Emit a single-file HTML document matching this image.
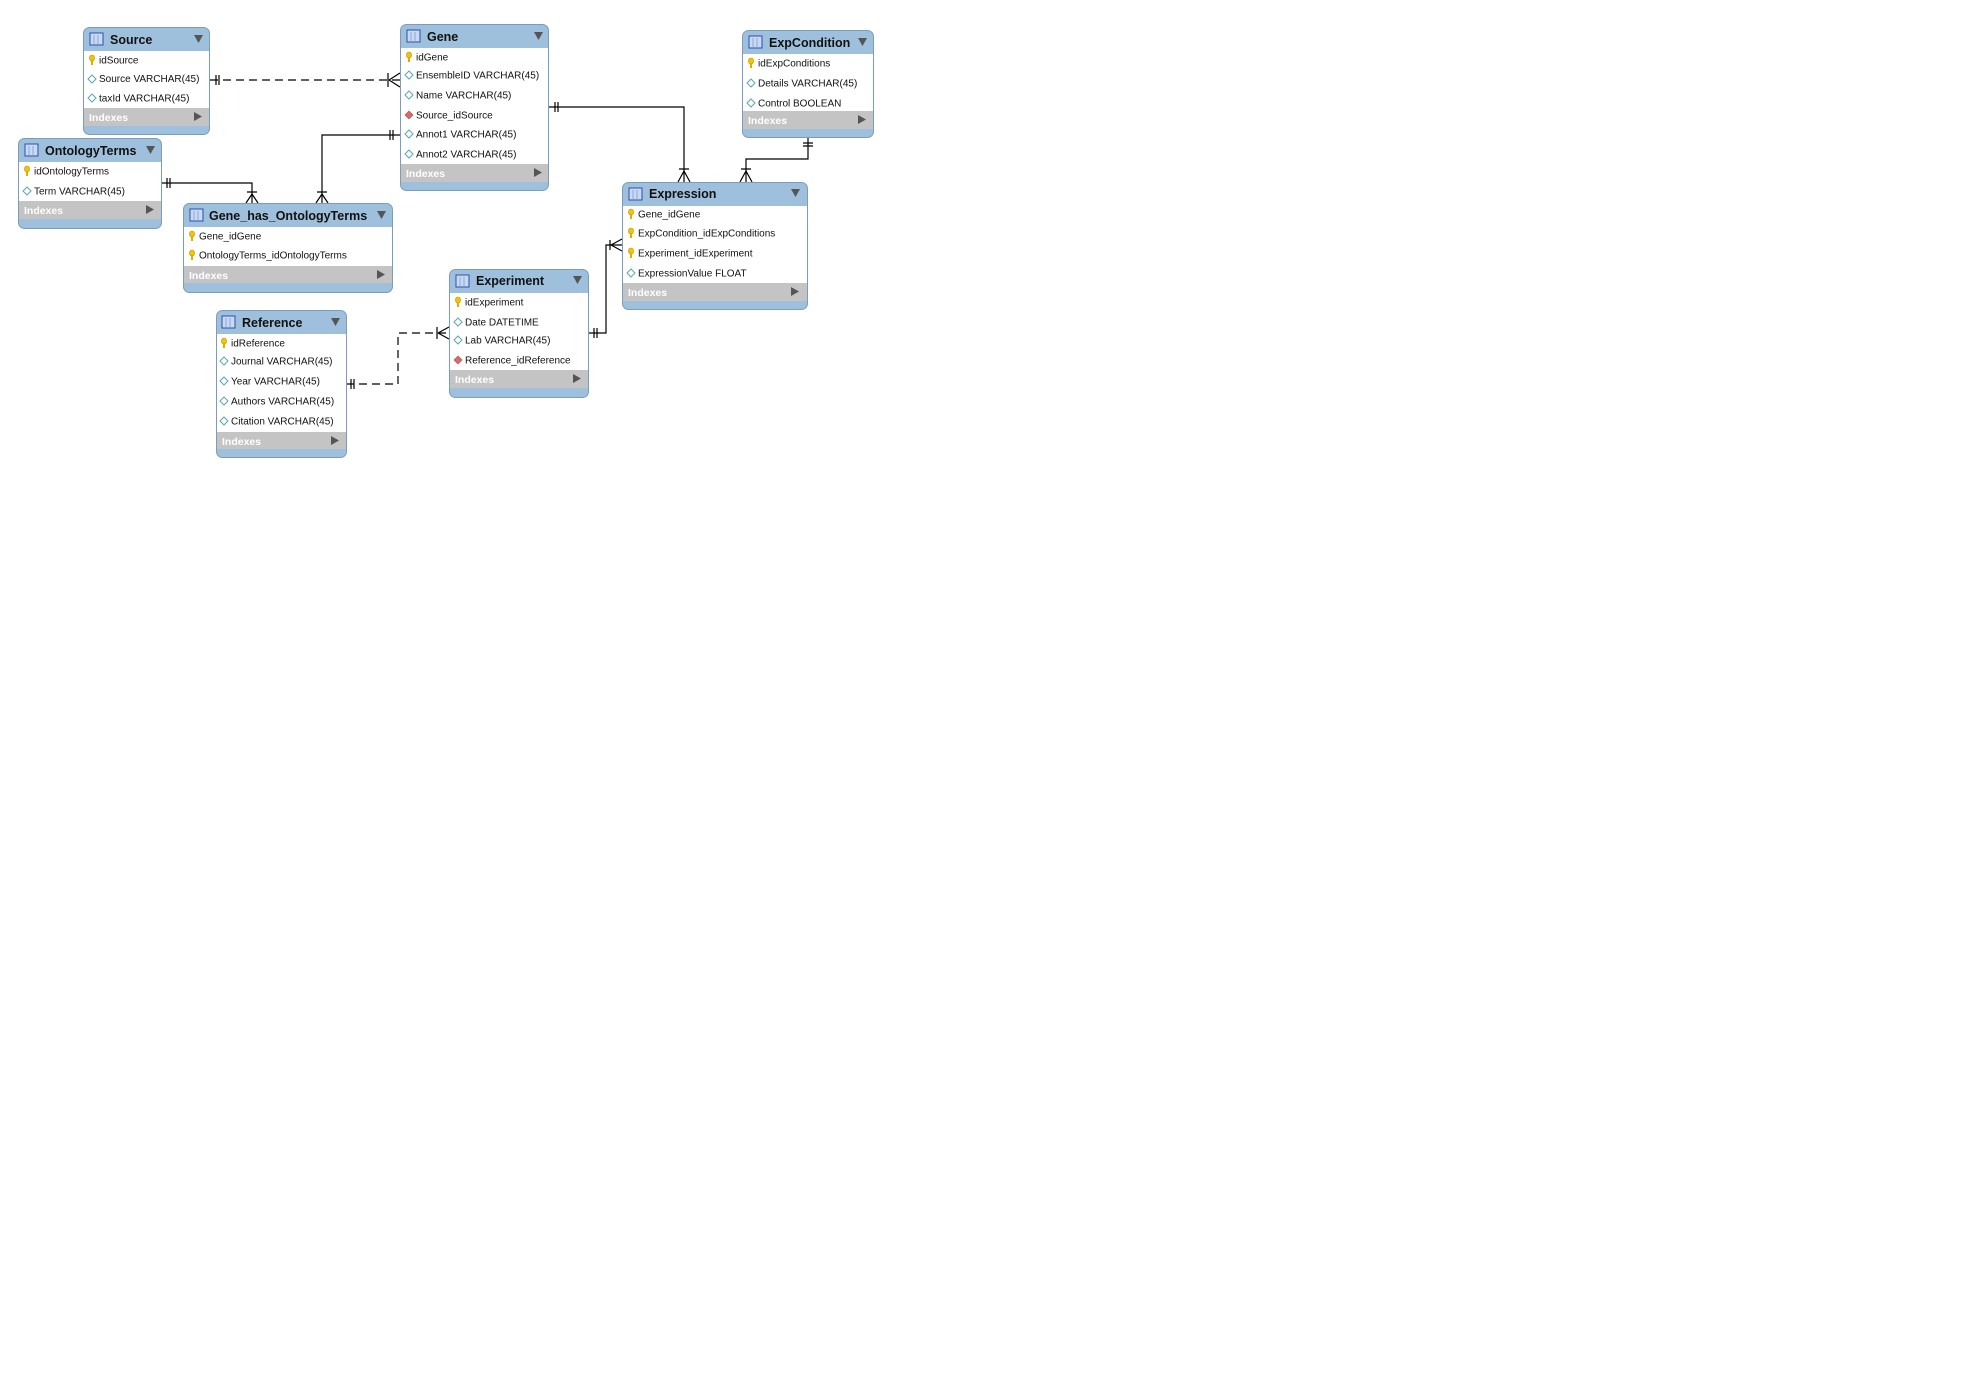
<!DOCTYPE html>
<html><head><meta charset="utf-8"><style>
html,body{margin:0;padding:0;background:#fff;}
svg{display:block;}
text{font-family:"Liberation Sans","DejaVu Sans",sans-serif;}
.h{font-size:12.5px;font-weight:bold;fill:#111;}
.r{font-size:10px;fill:#111;}
.ix{font-size:10.5px;font-weight:bold;fill:#fff;}
.box{fill:#9fc0dc;stroke:#7c9cbc;stroke-width:1;}
.ln{fill:none;stroke:#000;stroke-width:1.2;}
.ds{stroke-dasharray:8,5;}
</style></head><body>
<svg width="1972" height="1380" viewBox="0 0 1972 1380" xmlns="http://www.w3.org/2000/svg">
<defs>
<g id="ti"><rect x="0" y="0" width="13" height="12" fill="#c9d9f2" stroke="#2a4fb0" stroke-width="1"/><line x1="4" y1="2" x2="4" y2="11" stroke="#8aa6dc"/><line x1="8" y1="2" x2="8" y2="11" stroke="#8aa6dc"/></g>
<g id="key"><ellipse cx="0" cy="-2" rx="2.6" ry="3" fill="#f4c400" stroke="#c89400" stroke-width="0.6"/><rect x="-1" y="0" width="2" height="5" fill="#e0b000"/></g>
<g id="dia"><path d="M0,-4 L4,0 L0,4 L-4,0Z" fill="none" stroke="#5aa5b5" stroke-width="1"/></g>
<g id="fk"><path d="M0,-4 L4,0 L0,4 L-4,0Z" fill="#d96a6a" stroke="#b04848" stroke-width="0.6"/></g>
<g id="tri"><path d="M0,0 L9,0 L4.5,8Z" fill="#555"/></g>
<g id="arr"><path d="M0,0 L8,4.5 L0,9Z" fill="#555"/></g>
</defs>

<path class="ln ds" d="M210,80 L400,80"/>
<path class="ln" d="M216,75 V85 M219,75 V85 M388,73 V87 M389,80 L400,73 M389,80 L400,87"/>
<path class="ln" d="M400,135 H322 V203"/>
<path class="ln" d="M390,130 V140 M393,130 V140 M317,192 H327 M322,194 L316,203 M322,194 L328,203"/>
<path class="ln" d="M161,183 H252 V203"/>
<path class="ln" d="M167,178 V188 M170,178 V188 M247,192 H257 M252,194 L246,203 M252,194 L258,203"/>
<path class="ln" d="M549,107 H684 V182"/>
<path class="ln" d="M555,102 V112 M558,102 V112 M679,169 H689 M684,171 L678,182 M684,171 L690,182"/>
<path class="ln" d="M808,137 V159 H746 V182"/>
<path class="ln" d="M803,143 H813 M803,146 H813 M741,169 H751 M746,171 L740,182 M746,171 L752,182"/>
<path class="ln" d="M588,333 H606 V245 H622"/>
<path class="ln" d="M594,328 V338 M597,328 V338 M610,240 V250 M611,245 L622,239 M611,245 L622,251"/>
<path class="ln ds" d="M346,384 H398 V333 H449"/>
<path class="ln" d="M351,379 V389 M354,379 V389 M437,327 V339 M438,333 L449,327 M438,333 L449,339"/>

<g>
<rect class="box" x="83.5" y="27.5" width="126" height="107" rx="6"/>
<rect x="84" y="51" width="125" height="57" fill="#fff"/>
<rect x="84" y="108" width="125" height="18" fill="#c4c4c4"/>
<use href="#ti" x="90" y="33"/>
<text class="h" x="110" y="44">Source</text>
<use href="#tri" x="194" y="35"/>
<use href="#key" x="92" y="60"/><text class="r" x="99" y="63.5">idSource</text>
<use href="#dia" x="92" y="79"/><text class="r" x="99" y="82">Source VARCHAR(45)</text>
<use href="#dia" x="92" y="98"/><text class="r" x="99" y="101.5">taxId VARCHAR(45)</text>
<text class="ix" x="89" y="121">Indexes</text><use href="#arr" x="194" y="112"/>
</g>

<g>
<rect class="box" x="400.5" y="24.5" width="148" height="166" rx="6"/>
<rect x="401" y="48" width="147" height="116" fill="#fff"/>
<rect x="401" y="164" width="147" height="18" fill="#c4c4c4"/>
<use href="#ti" x="407" y="30"/>
<text class="h" x="427" y="41">Gene</text>
<use href="#tri" x="534" y="32"/>
<use href="#key" x="409" y="57"/><text class="r" x="416" y="60.5">idGene</text>
<use href="#dia" x="409" y="75"/><text class="r" x="416" y="78.5">EnsembleID VARCHAR(45)</text>
<use href="#dia" x="409" y="95"/><text class="r" x="416" y="98.5">Name VARCHAR(45)</text>
<use href="#fk" x="409" y="115"/><text class="r" x="416" y="118.5">Source_idSource</text>
<use href="#dia" x="409" y="134"/><text class="r" x="416" y="137.5">Annot1 VARCHAR(45)</text>
<use href="#dia" x="409" y="154"/><text class="r" x="416" y="157.5">Annot2 VARCHAR(45)</text>
<text class="ix" x="406" y="177">Indexes</text><use href="#arr" x="534" y="168"/>
</g>

<g>
<rect class="box" x="18.5" y="138.5" width="143" height="90" rx="6"/>
<rect x="19" y="162" width="142" height="39" fill="#fff"/>
<rect x="19" y="201" width="142" height="18" fill="#c4c4c4"/>
<use href="#ti" x="25" y="144"/>
<text class="h" x="45" y="155">OntologyTerms</text>
<use href="#tri" x="146" y="146"/>
<use href="#key" x="27" y="171"/><text class="r" x="34" y="174.5">idOntologyTerms</text>
<use href="#dia" x="27" y="191"/><text class="r" x="34" y="194.5">Term VARCHAR(45)</text>
<text class="ix" x="24" y="214">Indexes</text><use href="#arr" x="146" y="205"/>
</g>

<g>
<rect class="box" x="183.5" y="203.5" width="209" height="89" rx="6"/>
<rect x="184" y="227" width="208" height="39" fill="#fff"/>
<rect x="184" y="266" width="208" height="17" fill="#c4c4c4"/>
<use href="#ti" x="190" y="209"/>
<text class="h" x="209" y="220">Gene_has_OntologyTerms</text>
<use href="#tri" x="377" y="211"/>
<use href="#key" x="192" y="236"/><text class="r" x="199" y="239.5">Gene_idGene</text>
<use href="#key" x="192" y="255"/><text class="r" x="199" y="258.5">OntologyTerms_idOntologyTerms</text>
<text class="ix" x="189" y="279">Indexes</text><use href="#arr" x="377" y="270"/>
</g>

<g>
<rect class="box" x="742.5" y="30.5" width="131" height="107" rx="6"/>
<rect x="743" y="54" width="130" height="57" fill="#fff"/>
<rect x="743" y="111" width="130" height="18" fill="#c4c4c4"/>
<use href="#ti" x="749" y="36"/>
<text class="h" x="769" y="47">ExpCondition</text>
<use href="#tri" x="858" y="38"/>
<use href="#key" x="751" y="63"/><text class="r" x="758" y="66.5">idExpConditions</text>
<use href="#dia" x="751" y="83"/><text class="r" x="758" y="86.5">Details VARCHAR(45)</text>
<use href="#dia" x="751" y="103"/><text class="r" x="758" y="106.5">Control BOOLEAN</text>
<text class="ix" x="748" y="124">Indexes</text><use href="#arr" x="858" y="115"/>
</g>

<g>
<rect class="box" x="622.5" y="182.5" width="185" height="127" rx="6"/>
<rect x="623" y="206" width="184" height="77" fill="#fff"/>
<rect x="623" y="283" width="184" height="18" fill="#c4c4c4"/>
<use href="#ti" x="629" y="188"/>
<text class="h" x="649" y="198">Expression</text>
<use href="#tri" x="791" y="189"/>
<use href="#key" x="631" y="214"/><text class="r" x="638" y="217.5">Gene_idGene</text>
<use href="#key" x="631" y="233"/><text class="r" x="638" y="236.5">ExpCondition_idExpConditions</text>
<use href="#key" x="631" y="253"/><text class="r" x="638" y="256.5">Experiment_idExperiment</text>
<use href="#dia" x="631" y="273"/><text class="r" x="638" y="276.5">ExpressionValue FLOAT</text>
<text class="ix" x="628" y="296">Indexes</text><use href="#arr" x="791" y="287"/>
</g>

<g>
<rect class="box" x="449.5" y="269.5" width="139" height="128" rx="6"/>
<rect x="450" y="293" width="138" height="77" fill="#fff"/>
<rect x="450" y="370" width="138" height="18" fill="#c4c4c4"/>
<use href="#ti" x="456" y="275"/>
<text class="h" x="476" y="285">Experiment</text>
<use href="#tri" x="573" y="276"/>
<use href="#key" x="458" y="302"/><text class="r" x="465" y="305.5">idExperiment</text>
<use href="#dia" x="458" y="322"/><text class="r" x="465" y="325.5">Date DATETIME</text>
<use href="#dia" x="458" y="340"/><text class="r" x="465" y="343.5">Lab VARCHAR(45)</text>
<use href="#fk" x="458" y="360"/><text class="r" x="465" y="363.5">Reference_idReference</text>
<text class="ix" x="455" y="383">Indexes</text><use href="#arr" x="573" y="374"/>
</g>

<g>
<rect class="box" x="216.5" y="310.5" width="130" height="147" rx="6"/>
<rect x="217" y="334" width="129" height="98" fill="#fff"/>
<rect x="217" y="432" width="129" height="17" fill="#c4c4c4"/>
<use href="#ti" x="222" y="316"/>
<text class="h" x="242" y="327">Reference</text>
<use href="#tri" x="331" y="318"/>
<use href="#key" x="224" y="343"/><text class="r" x="231" y="346.5">idReference</text>
<use href="#dia" x="224" y="361"/><text class="r" x="231" y="364.5">Journal VARCHAR(45)</text>
<use href="#dia" x="224" y="381"/><text class="r" x="231" y="384.5">Year VARCHAR(45)</text>
<use href="#dia" x="224" y="401"/><text class="r" x="231" y="404.5">Authors VARCHAR(45)</text>
<use href="#dia" x="224" y="421"/><text class="r" x="231" y="424.5">Citation VARCHAR(45)</text>
<text class="ix" x="222" y="445">Indexes</text><use href="#arr" x="331" y="436"/>
</g>
</svg>
</body></html>
